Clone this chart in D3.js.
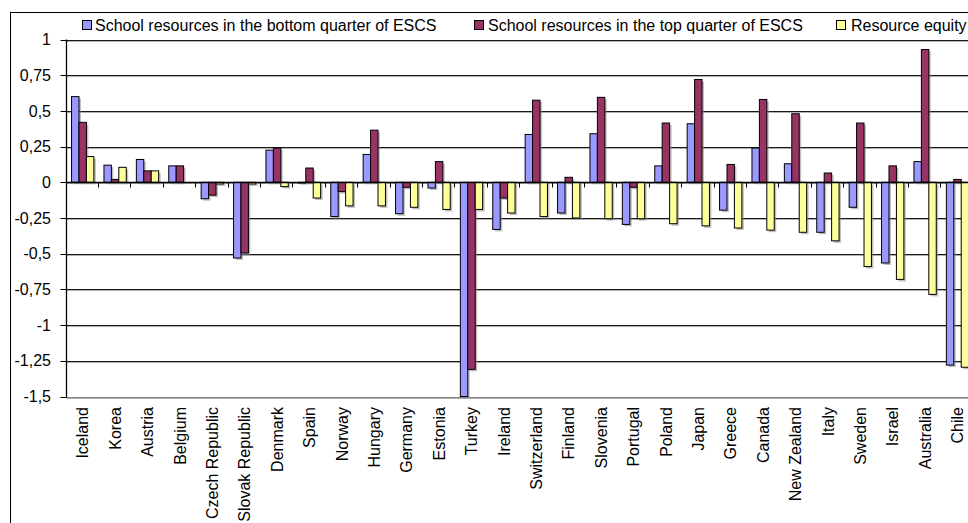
<!DOCTYPE html>
<html>
<head>
<meta charset="utf-8">
<script src="https://cdn.jsdelivr.net/npm/d3@7/dist/d3.min.js"></script>
<style>
  html, body { margin: 0; padding: 0; background: #fff; }
  svg { display: block; }
  text { font-family: Arial, "Liberation Sans", sans-serif; fill: #000; }
</style>
</head>
<body>
<svg id="chart" width="968" height="523"></svg>
<script>
// Countries along the category axis
const countries = ["Iceland", "Korea", "Austria", "Belgium", "Czech Republic", "Slovak Republic",
  "Denmark", "Spain", "Norway", "Hungary", "Germany", "Estonia", "Turkey", "Ireland",
  "Switzerland", "Finland", "Slovenia", "Portugal", "Poland", "Japan", "Greece", "Canada",
  "New Zealand", "Italy", "Sweden", "Israel", "Australia", "Chile"];

// Index of school resources, students in the bottom quarter of ESCS
const bottomQuarter = [0.60, 0.12, 0.16, 0.115, -0.115, -0.53, 0.225, -0.005, -0.24, 0.195,
  -0.22, -0.04, -1.50, -0.33, 0.335, -0.215, 0.34, -0.295, 0.115, 0.41, -0.195, 0.24,
  0.13, -0.35, -0.175, -0.565, 0.145, -1.28];

// Index of school resources, students in the top quarter of ESCS
const topQuarter = [0.42, 0.02, 0.08, 0.115, -0.09, -0.495, 0.24, 0.10, -0.065, 0.365,
  -0.035, 0.145, -1.31, -0.11, 0.575, 0.035, 0.595, -0.035, 0.415, 0.72, 0.125, 0.58,
  0.48, 0.065, 0.415, 0.115, 0.93, 0.02];

// Resource equity
const resourceEquity = [0.18, 0.105, 0.08, 0.0, -0.012, -0.012, -0.03, -0.11, -0.165, -0.165,
  -0.175, -0.19, -0.19, -0.215, -0.24, -0.25, -0.255, -0.255, -0.29, -0.305, -0.32, -0.335,
  -0.35, -0.41, -0.59, -0.68, -0.785, -1.295];

const seriesNames = ["School resources in the bottom quarter of ESCS",
  "School resources in the top quarter of ESCS", "Resource equity"];
const seriesColors = ["#9999FF", "#993366", "#FFFF99"];
const seriesValues = [bottomQuarter, topQuarter, resourceEquity];

const yTicks = [1, 0.75, 0.5, 0.25, 0, -0.25, -0.5, -0.75, -1, -1.25, -1.5];

const svg = d3.select("#chart");
const W = 968, H = 523;
svg.append("rect").attr("width", W).attr("height", H).attr("fill", "#fff");

// Plot geometry
const x0 = 66.5, step = 32.4;
const plotTop = 39.5, plotBottom = 396.5;
const x1 = x0 + step * countries.length;

const x = d3.scaleBand().domain(countries).range([x0, x1]).paddingInner(0).paddingOuter(0);
const xs = d3.scaleBand().domain(d3.range(3)).range([0, x.bandwidth()])
  .paddingInner(0).paddingOuter(0.68);
const y = d3.scaleLinear().domain([-1.5, 1]).range([plotBottom, plotTop]);

const locale = d3.formatLocale({ decimal: ",", thousands: ".", grouping: [3], currency: ["", ""], minus: "-" });
const fmt = locale.format("~g");

// Chart frame
svg.append("rect")
  .attr("x", 10.5).attr("y", 12.5).attr("width", W).attr("height", H)
  .attr("fill", "none").attr("stroke", "#000").attr("stroke-width", 1);

// Gridlines with a soft shadow underneath
const grid = svg.append("g");
yTicks.forEach(t => {
  grid.append("line").attr("x1", x0).attr("x2", x1)
    .attr("y1", Math.round(y(t)) + 1.5).attr("y2", Math.round(y(t)) + 1.5)
    .attr("stroke", "#b0b0b0").attr("stroke-width", 1);
  grid.append("line").attr("x1", x0).attr("x2", x1)
    .attr("y1", Math.round(y(t)) + 0.5).attr("y2", Math.round(y(t)) + 0.5)
    .attr("stroke", t === -1.5 ? "#808080" : "#1a1a1a").attr("stroke-width", 1);
});

// Bars
const groups = svg.append("g").selectAll("g")
  .data(countries).join("g")
  .attr("transform", d => `translate(${x(d)},0)`);

seriesValues.forEach((vals, si) => {
  const barData = countries.map((c, i) => ({ c, v: vals[i] }));
  // shadow
  groups.append("rect")
    .datum((d, i) => barData[i])
    .attr("x", d => xs(si) + 2)
    .attr("y", d => Math.min(y(d.v), y(0)) + 2)
    .attr("width", xs.bandwidth())
    .attr("height", d => Math.abs(y(d.v) - y(0)))
    .attr("fill", "#8c8c8c").attr("opacity", d => d.v === 0 ? 0 : 0.55);
});
seriesValues.forEach((vals, si) => {
  const barData = countries.map((c, i) => ({ c, v: vals[i] }));
  groups.append("rect")
    .datum((d, i) => barData[i])
    .attr("x", d => xs(si))
    .attr("y", d => Math.min(y(d.v), y(0)))
    .attr("width", xs.bandwidth())
    .attr("height", d => Math.abs(y(d.v) - y(0)))
    .attr("fill", seriesColors[si])
    .attr("stroke", "#000").attr("stroke-width", 1)
    .attr("display", d => d.v === 0 ? "none" : null);
});

// Zero axis with category boundary ticks
const zeroY = Math.round(y(0)) + 0.5;
svg.append("line").attr("x1", x0).attr("x2", x1).attr("y1", zeroY).attr("y2", zeroY)
  .attr("stroke", "#000").attr("stroke-width", 1.3);
svg.append("g").selectAll("line")
  .data(d3.range(1, countries.length + 1)).join("line")
  .attr("x1", i => Math.round(x0 + i * step) - 0.5)
  .attr("x2", i => Math.round(x0 + i * step) - 0.5)
  .attr("y1", zeroY).attr("y2", zeroY + 5)
  .attr("stroke", "#000").attr("stroke-width", 1);

// Value axis
const yAxis = svg.append("g");
yAxis.append("line").attr("x1", x0).attr("x2", x0).attr("y1", plotTop).attr("y2", plotBottom + 1)
  .attr("stroke", "#000").attr("stroke-width", 1.3);
yAxis.selectAll("line.tick").data(yTicks).join("line").attr("class", "tick")
  .attr("x1", x0 - 6).attr("x2", x0)
  .attr("y1", d => Math.round(y(d)) + 0.5).attr("y2", d => Math.round(y(d)) + 0.5)
  .attr("stroke", "#000").attr("stroke-width", 1);
yAxis.selectAll("text").data(yTicks).join("text")
  .attr("x", 51).attr("y", d => y(d)).attr("dy", "0.35em")
  .attr("text-anchor", "end").attr("font-size", 16)
  .text(d => fmt(d));

// Category labels
svg.append("g").selectAll("text").data(countries).join("text")
  .attr("transform", d => `translate(${x(d) + x.bandwidth() / 2},407) rotate(-90)`)
  .attr("dy", "0.35em").attr("text-anchor", "end").attr("font-size", 16)
  .text(d => d);

// Legend
const legendItems = [
  { sx: 82, tx: 95 },
  { sx: 474, tx: 488 },
  { sx: 836, tx: 851 }
];
const legend = svg.append("g");
legendItems.forEach((p, i) => {
  legend.append("rect").attr("x", p.sx + 0.5).attr("y", 20.5).attr("width", 9).attr("height", 9)
    .attr("fill", seriesColors[i]).attr("stroke", "#000").attr("stroke-width", 1);
  legend.append("text").attr("x", p.tx).attr("y", 30.5).attr("font-size", 16).text(seriesNames[i]);
});
</script>
</body>
</html>
